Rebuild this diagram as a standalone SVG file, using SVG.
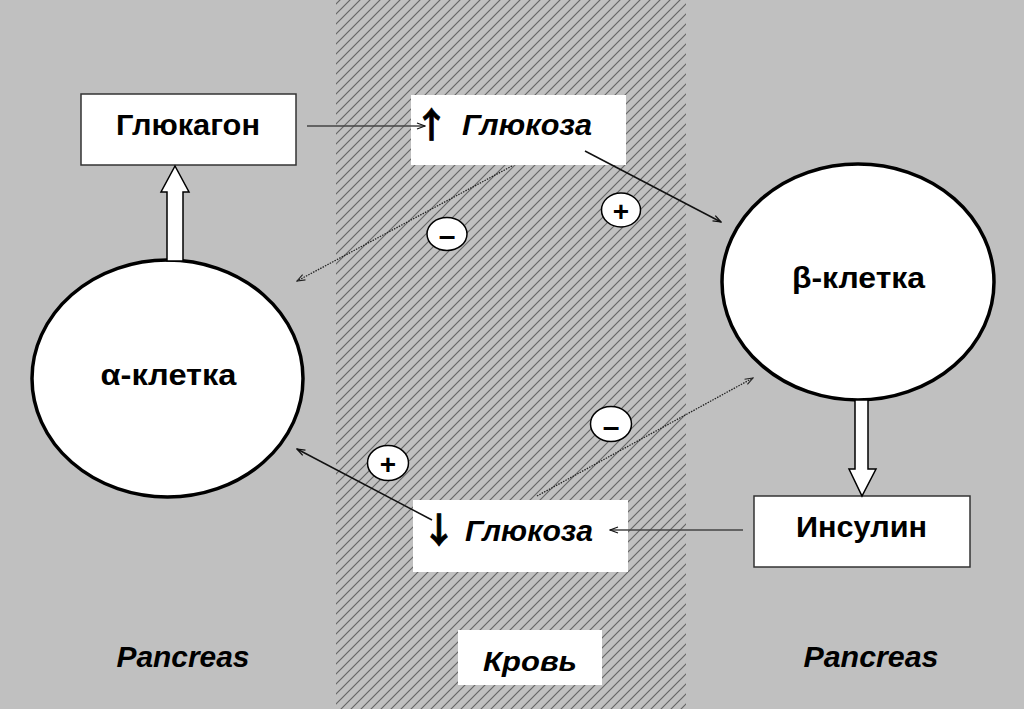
<svg xmlns="http://www.w3.org/2000/svg" width="1024" height="709" viewBox="0 0 1024 709">
<defs>
<pattern id="hatch" patternUnits="userSpaceOnUse" width="10" height="10">
<rect width="10" height="10" fill="#c0c0c0"/>
<path d="M-1,11 L11,-1 M-1,1 L1,-1 M9,11 L11,9" stroke="#666" stroke-width="1.2"/>
</pattern>
<marker id="arr" markerWidth="10" markerHeight="8" refX="9" refY="4" orient="auto" markerUnits="userSpaceOnUse">
<path d="M1,1 L9,4 L1,7" fill="none" stroke="#111" stroke-width="1.3"/>
</marker>
<marker id="arrd" markerWidth="10" markerHeight="8" refX="9" refY="4" orient="auto" markerUnits="userSpaceOnUse">
<path d="M1,1 L9,4 L1,7" fill="none" stroke="#222" stroke-width="1.1"/>
</marker>
</defs>
<style>
.t{font-family:"Liberation Sans",Arial,sans-serif;font-weight:bold;fill:#000}
.i{font-style:italic}
.ar{font-family:"Noto Sans CJK JP","DejaVu Sans",sans-serif;font-weight:bold;fill:#000;stroke:#000;stroke-width:0.8}
.box{fill:#fff;stroke:#333;stroke-width:1.5}
.cell{fill:#fff;stroke:#000;stroke-width:3.5}
.sign{fill:#fff;stroke:#000;stroke-width:1.5}
.solid{stroke:#111;stroke-width:1.5;fill:none}
.grey{stroke:#444}
.dot{stroke:#222;stroke-width:1.3;stroke-dasharray:1.5 1.2;fill:none}
.blk{fill:#fff;stroke:#000;stroke-width:1.5}
</style>
<rect width="1024" height="709" fill="#c0c0c0"/>
<rect x="336" y="0" width="350" height="709" fill="url(#hatch)"/>

<g id="blood-label">
<rect x="458" y="630" width="144" height="55" fill="#fff"/>
<text class="t i" x="530" y="671" font-size="28" text-anchor="middle" textLength="94" lengthAdjust="spacingAndGlyphs">Кровь</text>
</g>
<g id="pancreas-left">
<text class="t i" x="183" y="667" font-size="29" text-anchor="middle" textLength="133" lengthAdjust="spacingAndGlyphs">Pancreas</text>
</g>
<g id="pancreas-right">
<text class="t i" x="871" y="667" font-size="29" text-anchor="middle" textLength="135" lengthAdjust="spacingAndGlyphs">Pancreas</text>
</g>

<g id="glucagon">
<rect class="box" x="81" y="94" width="215" height="71"/>
<text class="t" x="188" y="135" font-size="29" text-anchor="middle" textLength="144" lengthAdjust="spacingAndGlyphs">Глюкагон</text>
</g>
<g id="alpha-cell">
<ellipse class="cell" cx="167.5" cy="378.5" rx="135.5" ry="118.5"/>
<text class="t" x="168.5" y="385" font-size="29" text-anchor="middle" textLength="136" lengthAdjust="spacingAndGlyphs">α-клетка</text>
</g>
<g id="beta-cell">
<ellipse class="cell" cx="858" cy="282" rx="136" ry="118"/>
<text class="t" x="858.5" y="288" font-size="29" text-anchor="middle" textLength="133" lengthAdjust="spacingAndGlyphs">β-клетка</text>
</g>
<g id="insulin">
<rect class="box" x="754" y="496" width="216" height="71"/>
<text class="t" x="861.5" y="537" font-size="29" text-anchor="middle" textLength="131" lengthAdjust="spacingAndGlyphs">Инсулин</text>
</g>
<g id="glucose-up">
<rect x="411" y="95" width="215" height="70" fill="#fff"/>
<text class="ar" x="431.5" y="138" font-size="35" text-anchor="middle">↑</text>
<text class="t i" x="462" y="135" font-size="29" textLength="130" lengthAdjust="spacingAndGlyphs">Глюкоза</text>
</g>
<g id="glucose-down">
<rect x="413" y="500" width="215" height="72" fill="#fff"/>
<text class="ar" x="439" y="543" font-size="35" text-anchor="middle">↓</text>
<text class="t i" x="465" y="541" font-size="29" textLength="128" lengthAdjust="spacingAndGlyphs">Глюкоза</text>
</g>
<g id="minus-top">
<ellipse class="sign" cx="447" cy="234" rx="20" ry="16.5"/>
<text class="t" x="447" y="246" font-size="30" text-anchor="middle">–</text>
</g>
<g id="plus-top">
<ellipse class="sign" cx="621" cy="210" rx="19.5" ry="17"/>
<text class="t" x="621" y="221" font-size="28" text-anchor="middle">+</text>
</g>
<g id="minus-bottom">
<ellipse class="sign" cx="611" cy="424" rx="20.5" ry="17.5"/>
<text class="t" x="611" y="437" font-size="30" text-anchor="middle">–</text>
</g>
<g id="plus-bottom">
<ellipse class="sign" cx="388" cy="463" rx="20.5" ry="17.5"/>
<text class="t" x="388" y="474" font-size="28" text-anchor="middle">+</text>
</g>

<g id="connectors">
<polygon class="blk" points="167,261 167,192 161,192 175,166 189,192 183,192 183,261"/>
<polygon class="blk" points="855,400 855,469 849,469 862,496 876,469 868,469 868,400"/>
<line class="solid grey" x1="307" y1="126" x2="425" y2="126" marker-end="url(#arr)"/>
<line class="solid" x1="585" y1="151" x2="721" y2="222" marker-end="url(#arr)"/>
<line class="dot" x1="512" y1="166" x2="297" y2="281" marker-end="url(#arrd)"/>
<line class="dot" x1="537" y1="496" x2="753" y2="378" marker-end="url(#arrd)"/>
<line class="solid" x1="432" y1="520" x2="297" y2="449" marker-end="url(#arr)"/>
<line class="solid grey" x1="743" y1="530" x2="610" y2="530" marker-end="url(#arr)"/>
</g>
</svg>
